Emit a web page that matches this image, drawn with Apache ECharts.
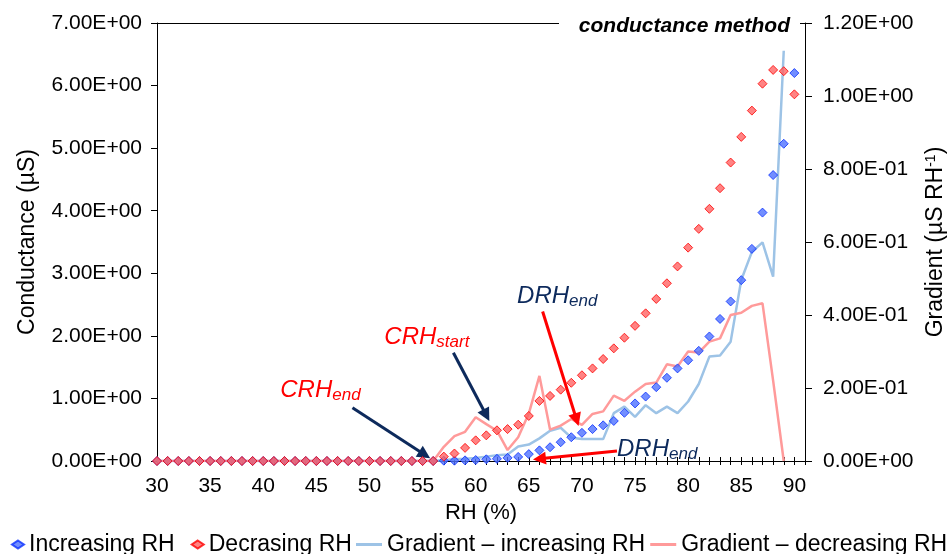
<!DOCTYPE html>
<html>
<head>
<meta charset="utf-8">
<script src="https://cdn.jsdelivr.net/npm/echarts@6/dist/echarts.min.js"></script>
<style>html,body{margin:0;padding:0;background:#fff}#c{width:948px;height:554px}</style>
</head>
<body>
<div id="c"></div>
<script>
// RH (%) values
const rh = [30,31,32,33,34,35,36,37,38,39,40,41,42,43,44,45,46,47,48,49,50,51,52,53,54,55,56,57,58,59,60,61,62,63,64,65,66,67,68,69,70,71,72,73,74,75,76,77,78,79,80,81,82,83,84,85,86,87,88,89,90];
// Conductance (µS), increasing RH
const increasingRH = [0,0,0,0,0,0,0,0,0,0,0,0,0,0,0,0,0,0,0,0,0,0,0,0,0,0,0,
  0.005,0.005,0.01,0.015,0.027,0.035,0.05,0.065,0.11,0.17,0.22,0.30,0.38,0.45,0.51,0.57,0.64,0.77,0.92,1.03,1.18,1.33,1.48,1.61,1.76,1.99,2.27,2.55,2.89,3.39,3.97,4.57,5.07,6.20];
// Conductance (µS), decreasing RH
const decreasingRH = [0,0,0,0,0,0,0,0,0,0,0,0,0,0,0,0,0,0,0,0,0,0,0,0,0,0,0,
  0.07,0.12,0.21,0.33,0.41,0.49,0.51,0.58,0.72,0.96,1.04,1.14,1.25,1.37,1.48,1.63,1.80,1.97,2.16,2.36,2.59,2.84,3.11,3.41,3.71,4.03,4.36,4.77,5.18,5.60,6.03,6.25,6.23,5.86];
// Gradient (µS RH-1), RH 30..89
const gradIncreasing = [0,0,0,0,0,0,0,0,0,0,0,0,0,0,0,0,0,0,0,0,0,0,0,0,0,0,0,
  0.003,0.005,0.006,0.008,0.012,0.016,0.018,0.04,0.045,0.062,0.083,0.091,0.064,0.06,0.06,0.06,0.131,0.149,0.121,0.153,0.131,0.149,0.131,0.163,0.211,0.286,0.289,0.327,0.496,0.573,0.599,0.505,1.124];
const gradDecreasing = [0,0,0,0,0,0,0,0,0,0,0,0,0,0,0,0,0,0,0,0,0,0,0,0,0,0,0,
  0.039,0.068,0.08,0.12,0.101,0.083,0.03,0.065,0.13,0.233,0.086,0.097,0.115,0.099,0.129,0.136,0.179,0.165,0.19,0.211,0.215,0.265,0.259,0.30,0.297,0.327,0.336,0.40,0.406,0.425,0.432,0.22,0.0];
const seriesNames = ['Increasing RH','Decrasing RH','Gradient \u2013 increasing RH','Gradient \u2013 decreasing RH'];
// annotations: [RH, conductance]
const arrows = [
  {from:[57.9,1.73], to:[61.0,0.73], color:'#0d2a5c'},
  {from:[48.4,0.85], to:[55.2,0.10], color:'#0d2a5c'},
  {from:[66.3,2.39], to:[69.5,0.66], color:'#ff0000'},
  {from:[73.3,0.16], to:[66.0,0.035], color:'#ff0000'}
];
const notes = [
  {at:[51.4,1.97], main:'CRH', sub:'start', color:'#ff0000'},
  {at:[41.6,1.13], main:'CRH', sub:'end', color:'#ff0000'},
  {at:[63.9,2.63], main:'DRH', sub:'end', color:'#0d2a5c'},
  {at:[73.3,0.18], main:'DRH', sub:'end', color:'#0d2a5c'}
];

const FONT = 'Liberation Sans, Arial, sans-serif';
function sci(v){
  const s = Number(v).toExponential(2);
  const parts = s.split('e');
  let e = parts[1]; const sign = e[0]; let d = e.slice(1);
  if (d.length < 2) d = '0' + d;
  return parts[0] + 'E' + sign + d;
}
const pairs = (ys) => ys.map((y,i)=>[rh[i], y]);

const chart = echarts.init(document.getElementById('c'), null, {renderer:'canvas'});
const txt = {color:'#000', fontFamily:FONT, fontSize:21};
const option = {
  animation:false,
  backgroundColor:'#fff',
  grid:{left:157, right:143, top:23, bottom:93, containLabel:false, outerBoundsMode:'none'},
  xAxis:[
    {type:'value', min:30, max:91, interval:5, position:'bottom',
     name:'RH (%)', nameLocation:'middle', nameGap:37, nameTextStyle:Object.assign({}, txt, {fontSize:22}),
     axisLine:{show:true, onZero:false, lineStyle:{color:'#000', width:1}},
     axisTick:{show:true, length:4, lineStyle:{color:'#000'}},
     minorTick:{show:true, splitNumber:5, length:4, lineStyle:{color:'#000'}},
     axisLabel:Object.assign({}, txt, {margin:15, showMaxLabel:false}),
     splitLine:{show:false}, minorSplitLine:{show:false}},
    {type:'value', min:30, max:91, interval:5, position:'top',
     axisLine:{show:true, onZero:false, lineStyle:{color:'#000', width:1}},
     axisTick:{show:false}, axisLabel:{show:false}, splitLine:{show:false}},
    {type:'value', min:30, max:91, interval:5, position:'bottom',
     axisLine:{show:false, onZero:false},
     axisTick:{show:true, inside:true, length:4, lineStyle:{color:'#000'}},
     minorTick:{show:true, splitNumber:5, length:4, lineStyle:{color:'#000'}},
     axisLabel:{show:false}, splitLine:{show:false}}
  ],
  yAxis:[
    {type:'value', min:0, max:7, interval:1, position:'left',
     name:'Conductance (\u00b5S)', nameLocation:'middle', nameGap:118, nameRotate:90,
     nameTextStyle:Object.assign({}, txt, {fontSize:23}),
     axisLine:{show:true, onZero:false, lineStyle:{color:'#000', width:1}},
     axisTick:{show:true, length:6, lineStyle:{color:'#000'}},
     axisLabel:Object.assign({}, txt, {margin:15, formatter:sci}),
     splitLine:{show:false}},
    {type:'value', min:0, max:1.2, interval:0.2, position:'right',
     name:'Gradient (\u00b5S RH{sup|-1})', nameLocation:'middle', nameGap:117, nameRotate:90,
     nameTextStyle:Object.assign({}, txt, {fontSize:23, rich:{sup:{fontSize:14, lineHeight:14, verticalAlign:'top', fontFamily:FONT, color:'#000'}}}),
     axisLine:{show:true, onZero:false, lineStyle:{color:'#000', width:1}},
     axisTick:{show:true, length:7, lineStyle:{color:'#000'}},
     axisLabel:Object.assign({}, txt, {margin:18, formatter:sci}),
     splitLine:{show:false}}
  ],
  legend:[
    {data:[seriesNames[0], seriesNames[1]], left:11, top:533, padding:0, width:380, itemWidth:12, itemHeight:8, itemGap:16,
     textStyle:Object.assign({}, txt, {fontSize:23}), selectedMode:false},
    {data:[{name:seriesNames[2], icon:'rect'}, {name:seriesNames[3], icon:'rect'}], left:356, top:533, padding:0, width:600,
     itemWidth:26, itemHeight:3, itemGap:5,
     textStyle:Object.assign({}, txt, {fontSize:23}), selectedMode:false}
  ],
  graphic:[
    {type:'rect', left:559, top:17, shape:{width:241, height:14}, style:{fill:'#fff'}, z:50, silent:true},
    {type:'text', right:158, top:16, z:51, silent:true,
     style:{text:'conductance method', font:'italic bold 21px ' + FONT, fill:'#000'}}
  ],
  series:[
    {name:seriesNames[2], type:'line', xAxisIndex:0, yAxisIndex:1, data:pairs(gradIncreasing),
     symbol:'none', lineStyle:{color:'#9dc3e6', width:2.5}, itemStyle:{color:'#9dc3e6'}, z:2},
    {name:seriesNames[3], type:'line', xAxisIndex:0, yAxisIndex:1, data:pairs(gradDecreasing),
     symbol:'none', lineStyle:{color:'#ff9a9a', width:2.5}, itemStyle:{color:'#ff9a9a'}, z:2},
    {name:seriesNames[0], type:'scatter', xAxisIndex:0, yAxisIndex:0, data:pairs(increasingRH),
     symbol:'diamond', symbolSize:9, symbolKeepAspect:true,
     itemStyle:{color:'#4f72ff', borderColor:'#0a30ff', borderWidth:1}, z:4},
    {name:seriesNames[1], type:'scatter', xAxisIndex:0, yAxisIndex:0, data:pairs(decreasingRH),
     symbol:'diamond', symbolSize:9, symbolKeepAspect:true,
     itemStyle:{color:'#ff6464', borderColor:'#ff0000', borderWidth:1}, z:5,
     markLine:{silent:true, animation:false, symbol:['none','triangle'], symbolSize:13,
       label:{show:false}, lineStyle:{type:'solid', width:3},
       data: arrows.map(a => [
         {coord:a.from, lineStyle:{color:a.color, width:3, type:'solid'}, itemStyle:{color:a.color}},
         {coord:a.to, lineStyle:{color:a.color, width:3, type:'solid'}, itemStyle:{color:a.color}}
       ])},
     markPoint:{silent:true, animation:false, symbol:'circle', symbolSize:0,
       itemStyle:{color:'rgba(0,0,0,0)'},
       data: notes.map(n => ({coord:n.at, value:0,
         label:{show:true, position:'right', distance:0,
           formatter:'{m|' + n.main + '}{s|' + n.sub + '}',
           rich:{
             m:{fontSize:24, lineHeight:26, fontStyle:'italic', fontFamily:FONT, color:n.color},
             s:{fontSize:17, lineHeight:17, fontStyle:'italic', fontFamily:FONT, color:n.color, padding:[10,0,0,0], verticalAlign:'bottom'}
           }}}))}
    }
  ]
};
chart.setOption(option);
</script>
</body>
</html>
